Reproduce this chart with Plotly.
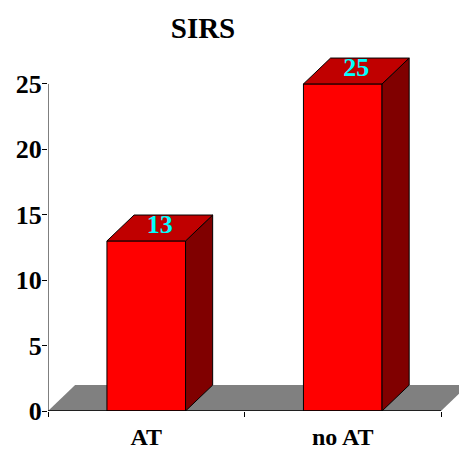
import plotly.graph_objects as go

categories = ["AT", "no AT"]
values = [13, 25]
y_ticks = [0, 5, 10, 15, 20, 25]
chart_title = "SIRS"

BAR_W = 0.4
DX = 0.138
DY = 1.98
FONT = "Liberation Serif"
X0, X1 = -0.5, 1.5

fig = go.Figure()

# front faces
fig.add_trace(go.Bar(x=list(range(len(values))), y=values, width=BAR_W,
                     marker=dict(color="#ff0000", line=dict(color="black", width=1)),
                     hoverinfo="skip", showlegend=False))

# side and top faces
for i, v in enumerate(values):
    l, r = i - BAR_W / 2, i + BAR_W / 2
    fig.add_trace(go.Scatter(x=[r, r + DX, r + DX, r, r], y=[0, DY, v + DY, v, 0],
                             mode="lines", fill="toself", fillcolor="#800000",
                             line=dict(color="black", width=1), hoverinfo="skip", showlegend=False))
    fig.add_trace(go.Scatter(x=[l, l + DX, r + DX, r, l], y=[v, v + DY, v + DY, v, v],
                             mode="lines", fill="toself", fillcolor="#c00000",
                             line=dict(color="black", width=1), hoverinfo="skip", showlegend=False))

# value labels
fig.add_trace(go.Scatter(x=[i + DX / 2 for i in range(len(values))],
                         y=[v + 1.1 for v in values],
                         mode="text", text=[f"<b>{v}</b>" for v in values], textposition="middle center",
                         textfont=dict(family=FONT, size=26, color="#00ffff"),
                         cliponaxis=False, hoverinfo="skip", showlegend=False))

shapes = [
    # floor
    dict(type="path", layer="below", xref="x", yref="y",
         path=f"M {X0} 0 L {X0 + DX} {DY} L {X1 + DX} {DY} L {X1} 0 Z",
         fillcolor="#808080", line=dict(width=0)),
    # axis lines
    dict(type="line", layer="above", xref="x", yref="y", x0=X0, x1=X0, y0=0, y1=max(y_ticks),
         line=dict(color="black", width=1)),
    dict(type="line", layer="above", xref="x", yref="y", x0=X0, x1=X1, y0=0, y1=0,
         line=dict(color="black", width=1.5)),
]

fig.update_layout(
    width=459, height=451, autosize=False,
    margin=dict(l=48, r=0, t=50, b=39.5, autoexpand=False),
    paper_bgcolor="white", plot_bgcolor="rgba(0,0,0,0)",
    showlegend=False, shapes=shapes,
    title=dict(text=f"<b>{chart_title}</b>", x=203 / 459, xanchor="center", y=1 - 28 / 451, yanchor="middle",
               font=dict(family=FONT, size=29, color="black")),
    xaxis=dict(range=[X0, X0 + 411 / 196.5], tickvals=[0, 1], ticktext=[f"<b>{c}</b>" for c in categories],
               ticks="", showgrid=False, zeroline=False, showline=False, ticklabelstandoff=9, automargin=False,
               tickfont=dict(family=FONT, size=24, color="black"),
               minor=dict(tickvals=[X0, 0.5, X1], ticks="outside", ticklen=5, tickcolor="black", tickwidth=1, showgrid=False)),
    yaxis=dict(range=[0, 361.5 / 13.1], tickvals=y_ticks, ticktext=[f"<b>{t}</b>" for t in y_ticks],
               ticks="outside", ticklen=5, tickcolor="black", tickwidth=1, showgrid=False, zeroline=False, showline=False,
               ticklabelstandoff=-5, automargin=False,
               tickfont=dict(family=FONT, size=26, color="black")),
)

fig.write_html("out.html", config=dict(displayModeBar=False),
               post_script="document.body.style.margin='0';document.documentElement.style.overflow='hidden';")
